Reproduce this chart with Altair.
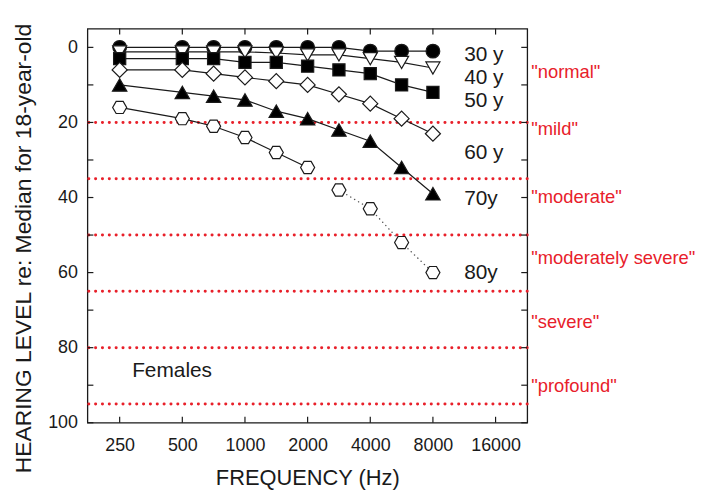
import altair as alt
import pandas as pd

# ---------------- data ----------------
freqs = [250, 500, 707, 1000, 1414, 2000, 2828, 4000, 5657, 8000]
hl_30 = [0, 0, 0, 0, 0, 0, 0, 1, 1, 1]
hl_40 = [1.2, 1.2, 1.2, 1.2, 1.5, 2, 2, 3, 4, 5.5]
hl_50 = [3, 3, 3, 4, 4, 5, 6, 7, 10, 12]
hl_60 = [6, 6, 7, 8, 9, 10, 12.5, 15, 19, 23]
hl_70 = [10, 12, 13, 14, 17, 19, 22, 25, 32, 39]
hl_80 = [16, 19, 21, 24, 28, 32, 38, 43, 52, 60]
split_80 = 6  # 80y: solid up to 2000 Hz, dotted from 2828 Hz on

age_names = ["30 y", "40 y", "50 y", "60 y", "70y", "80y"]
age_label_y = [2.1, 8.2, 14.3, 28.1, 40.4, 60.1]
age_label_freq = 11300

category_lines = [20, 35, 50, 65, 80, 95]
category_names = ['"normal"', '"mild"', '"moderate"', '"moderately severe"', '"severe"', '"profound"']
category_label_y = [6.7, 21.8, 39.9, 56.1, 73.3, 90.2]

x_ticks = [250, 500, 1000, 2000, 4000, 8000, 16000]
y_labels = [0, 20, 40, 60, 80, 100]
y_minor = [0, 10, 20, 30, 40, 50, 60, 70, 80, 90, 100]

# ---------------- layout ----------------
W, H = 443, 397
FONT = "Liberation Sans"
RED = "#e8202a"
INK = "#1a1a1a"

xscale = alt.Scale(type="log", base=2, domain=[175, 22710], nice=False)
yscale = alt.Scale(domain=[-5, 100], reverse=True, nice=False, zero=False)

HEX = "M-1,0L-0.5,-0.866L0.5,-0.866L1,0L0.5,0.866L-0.5,0.866Z"

series = [
    ("30 y", hl_30, "circle", "black", 190),
    ("40 y", hl_40, "triangle-down", "white", 200),
    ("50 y", hl_50, "square", "black", 150),
    ("60 y", hl_60, "diamond", "white", 230),
    ("70y", hl_70, "triangle-up", "black", 210),
    ("80y", hl_80, HEX, "white", 200),
]


def X(field="f"):
    return alt.X(f"{field}:Q", scale=xscale)


def Y(field="v"):
    return alt.Y(f"{field}:Q", scale=yscale)


layers = []

# axes carrier (invisible points)
axis_df = pd.DataFrame({"f": [250], "v": [0]})
axes = alt.Chart(axis_df).mark_point(opacity=0).encode(
    x=alt.X("f:Q", scale=xscale, axis=alt.Axis(
        values=x_ticks, format="d", tickSize=0, domain=False, grid=False,
        labelFontSize=18, labelColor=INK, labelBaseline="alphabetic", labelPadding=28,
        labelOverlap=False, labelFlush=False,
        title="FREQUENCY (Hz)", titleFontSize=22, titleFontWeight="normal", titleColor=INK,
        titleX=221.5, titleY=62, titleBaseline="alphabetic", titleAlign="center")),
    y=alt.Y("v:Q", scale=yscale, axis=alt.Axis(
        values=y_labels, tickSize=0, domain=False, grid=False,
        labelFontSize=18, labelColor=INK, labelBaseline="middle", labelPadding=10,
        title="HEARING LEVEL re: Median for 18-year-old", titleFontSize=23,
        titleFontWeight="normal", titleColor=INK, titleAngle=270,
        titleX=-57, titleY=221, titleBaseline="alphabetic", titleAlign="center")),
)
layers.append(axes)

# red dotted category lines
cat_df = pd.DataFrame({"v": category_lines})
layers.append(alt.Chart(cat_df).mark_rule(
    color=RED, strokeWidth=3, strokeDash=[0.1, 6.8], strokeCap="round"
).encode(y=Y()))

# inner ticks
ym_df = pd.DataFrame({"v": y_minor})
xt_df = pd.DataFrame({"f": x_ticks})
tick_style = dict(color=INK, strokeWidth=1.2)
layers.append(alt.Chart(ym_df).mark_rule(**tick_style).encode(
    y=Y(), x=alt.value(0), x2=alt.value(6)))
layers.append(alt.Chart(ym_df).mark_rule(**tick_style).encode(
    y=Y(), x=alt.value(W), x2=alt.value(W - 6)))
layers.append(alt.Chart(xt_df).mark_rule(**tick_style).encode(
    x=X(), y=alt.value(H), y2=alt.value(H - 6)))
layers.append(alt.Chart(xt_df).mark_rule(**tick_style).encode(
    x=X(), y=alt.value(0), y2=alt.value(6)))

# series
for name, vals, shape, fill, size in series:
    df = pd.DataFrame({"f": freqs, "v": vals})
    if name == "80y":
        solid = df.iloc[:split_80]
        dotted = df.iloc[split_80:]
        layers.append(alt.Chart(solid).mark_line(color=INK, strokeWidth=1.2).encode(x=X(), y=Y()))
        layers.append(alt.Chart(dotted).mark_line(
            color="#555555", strokeWidth=1.4, strokeDash=[0.1, 4.5], strokeCap="round"
        ).encode(x=X(), y=Y()))
    else:
        layers.append(alt.Chart(df).mark_line(color=INK, strokeWidth=1.2).encode(x=X(), y=Y()))
    layers.append(alt.Chart(df).mark_point(
        shape=shape, filled=True, fill=fill, stroke=INK, strokeWidth=1.2, size=size, opacity=1
    ).encode(x=X(), y=Y()))

# age labels
age_df = pd.DataFrame({"f": [age_label_freq] * len(age_names), "v": age_label_y, "t": age_names})
layers.append(alt.Chart(age_df).mark_text(
    align="left", baseline="middle", fontSize=21, color=INK
).encode(x=X(), y=Y(), text="t:N"))

# category labels (right of the frame)
catl_df = pd.DataFrame({"v": category_label_y, "t": category_names})
layers.append(alt.Chart(catl_df).mark_text(
    align="left", baseline="middle", fontSize=18.5, color=RED
).encode(x=alt.value(W + 4), y=Y(), text="t:N"))

# "Females"
fem_df = pd.DataFrame({"f": [287], "v": [86.3], "t": ["Females"]})
layers.append(alt.Chart(fem_df).mark_text(
    align="left", baseline="middle", fontSize=21, color=INK
).encode(x=X(), y=Y(), text="t:N"))

chart = alt.layer(*layers).properties(
    width=W, height=H,
    padding={"left": 80, "top": 19, "right": 170, "bottom": 67},
    autosize=alt.AutoSizeParams(type="none"),
).configure(font=FONT).configure_view(stroke=INK, strokeWidth=1.3)

chart.save("out.html", embed_options={"renderer": "svg", "actions": False})
